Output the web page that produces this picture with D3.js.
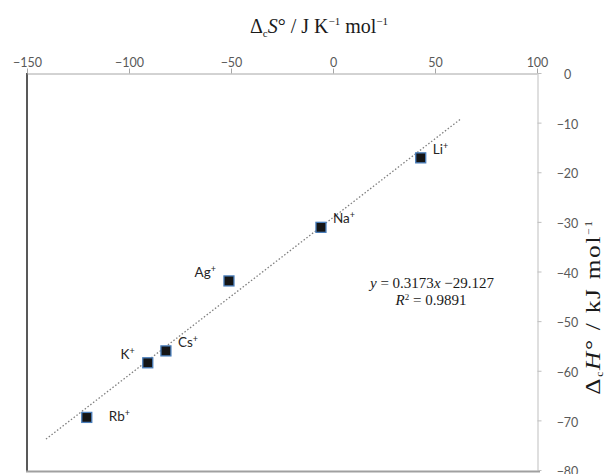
<!DOCTYPE html>
<html><head><meta charset="utf-8">
<script src="https://cdn.jsdelivr.net/npm/d3@7"></script>
<style>body{margin:0;background:#fff}svg{display:block}</style>
</head><body>
<svg id="c" width="605" height="474"></svg>
<script>
const ions = ["Li", "Na", "Ag", "Cs", "K", "Rb"];
const dS = [43.0, -5.9, -51.0, -81.9, -90.8, -120.7];
const dH = [-17.1, -31.1, -41.9, -56.0, -58.4, -69.4];
const labelSide = ["right", "right", "left", "right", "left", "right"];
const xTicks = [-150, -100, -50, 0, 50, 100];
const yTicks = [0, -10, -20, -30, -40, -50, -60, -70, -80];
const slope = 0.3173, intercept = -29.127, r2 = 0.9891;
const forecast = 20;

const svg = d3.select("#c");
const x = d3.scaleLinear().domain([-150, 100]).range([27, 537]);
const y = d3.scaleLinear().domain([0, -80]).range([73, 470]);
const fmt = v => v < 0 ? "\u2212" + Math.abs(v) : String(v);

// frame left/bottom
svg.append("line").attr("x1", 27).attr("x2", 27).attr("y1", 73).attr("y2", 472)
  .attr("stroke", "#595959").attr("stroke-width", 2);
svg.append("line").attr("x1", 26).attr("x2", 540).attr("y1", 471.5).attr("y2", 471.5)
  .attr("stroke", "#a0a0a0").attr("stroke-width", 2);

// top axis
const gx = svg.append("g").attr("transform", "translate(0,73.5)")
  .call(d3.axisTop(x).tickValues(xTicks).tickFormat(fmt).tickSize(5).tickSizeOuter(0).tickPadding(2));
gx.select(".domain").attr("stroke", "#a6a6a6");
gx.selectAll(".tick line").attr("stroke", "#a6a6a6");
gx.selectAll("text").attr("fill", "#595959").style("font-family", "Lato, 'Open Sans', sans-serif").style("font-size", "12.5px");

// right axis
const gy = svg.append("g").attr("transform", "translate(537.5,0)")
  .call(d3.axisRight(y).tickValues(yTicks).tickFormat(fmt).tickSize(4).tickSizeOuter(0));
gy.select(".domain").attr("stroke", "#bfbfbf");
gy.selectAll(".tick line").attr("stroke", "#bfbfbf");
gy.selectAll("text").attr("x", 30).attr("text-anchor", "middle").attr("dy", "0.45em")
  .attr("fill", "#595959").style("font-family", "Lato, 'Open Sans', sans-serif").style("font-size", "12.5px");

// trendline
const x0 = d3.min(dS) - forecast, x1 = d3.max(dS) + forecast;
svg.append("line")
  .attr("x1", x(x0)).attr("y1", y(slope * x0 + intercept))
  .attr("x2", x(x1)).attr("y2", y(slope * x1 + intercept))
  .attr("stroke", "#7f7f7f").attr("stroke-width", 1.3).attr("stroke-dasharray", "1.5,2");

// points
const data = ions.map((n, i) => ({n, s: dS[i], h: dH[i], side: labelSide[i]}));
svg.append("g").selectAll("rect").data(data).join("rect")
  .attr("x", d => x(d.s) - 5).attr("y", d => y(d.h) - 5)
  .attr("width", 10).attr("height", 10)
  .attr("fill", "#151515").attr("stroke", "#4a7ebb").attr("stroke-width", 1.3);

const lab = svg.append("g").selectAll("text").data(data).join("text")
  .attr("x", d => d.side === "right" ? x(d.s) + (d.n === "Rb" ? 22 : 12) : x(d.s) - 13)
  .attr("y", d => y(d.h) - (d.n === "Rb" ? -4 : 4))
  .attr("text-anchor", d => d.side === "right" ? "start" : "end")
  .attr("fill", "#262626")
  .style("font-family", "Lato, 'Open Sans', sans-serif").style("font-size", "13.5px");
lab.append("tspan").text(d => d.n);
lab.append("tspan").attr("dy", -5).style("font-size", "9px").text("+");

// equation
const eq = svg.append("text").attr("x", 432).attr("y", 288).attr("text-anchor", "middle")
  .style("font-family", "'Liberation Serif', serif").style("font-size", "15px").attr("fill", "#1a1a1a");
eq.append("tspan").style("font-style", "italic").text("y");
eq.append("tspan").text(" = " + slope + "");
eq.append("tspan").style("font-style", "italic").text("x");
eq.append("tspan").text(" \u2212" + Math.abs(intercept));
const r = svg.append("text").attr("x", 431).attr("y", 305).attr("text-anchor", "middle")
  .style("font-family", "'Liberation Serif', serif").style("font-size", "15px").attr("fill", "#1a1a1a");
r.append("tspan").style("font-style", "italic").text("R");
r.append("tspan").attr("dy", -5).style("font-size", "9px").text("2");
r.append("tspan").attr("dy", 5).text(" = " + r2);

// top axis title
const tt = svg.append("text").attr("x", 319).attr("y", 33).attr("text-anchor", "middle")
  .style("font-family", "'Liberation Serif', serif").style("font-size", "20px").attr("fill", "#1a1a1a");
tt.append("tspan").text("\u0394");
tt.append("tspan").attr("dy", 4).style("font-size", "11px").text("c");
tt.append("tspan").attr("dy", -4).style("font-style", "italic").text("S");
tt.append("tspan").text("\u00b0 / J K");
tt.append("tspan").attr("dy", -8).style("font-size", "11px").text("\u22121");
tt.append("tspan").attr("dy", 8).text(" mol");
tt.append("tspan").attr("dy", -8).style("font-size", "11px").text("\u22121");

// right axis title
const rt = svg.append("text").attr("transform", "translate(600,307) rotate(-90) scale(1.15,1)").attr("text-anchor", "middle")
  .style("font-family", "'Liberation Serif', serif").style("font-size", "22px").style("letter-spacing", "1.5px").attr("fill", "#1a1a1a");
rt.append("tspan").text("\u0394");
rt.append("tspan").attr("dy", 3).style("font-size", "10px").text("c");
rt.append("tspan").attr("dy", -3).style("font-style", "italic").text("H");
rt.append("tspan").text("\u00b0 / kJ mol");
rt.append("tspan").attr("dy", -8).style("font-size", "10px").text("\u22121");
</script>
</body></html>
